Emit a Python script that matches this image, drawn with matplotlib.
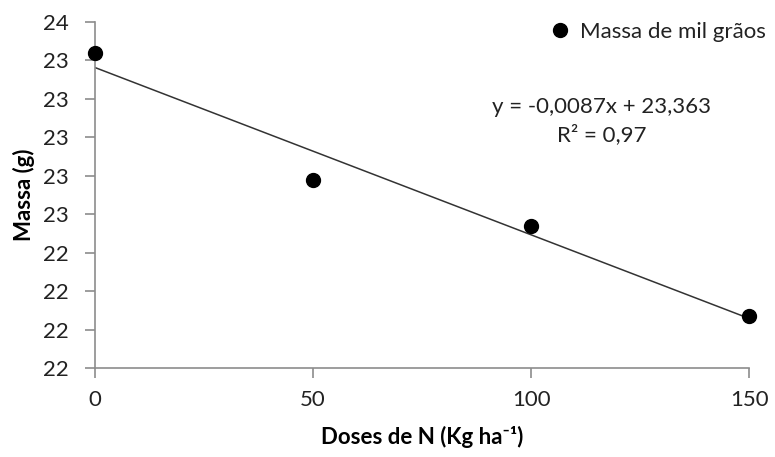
import numpy as np
import matplotlib.pyplot as plt
from matplotlib.ticker import FuncFormatter

# dados
doses = [0, 50, 100, 150]
massa = [23.44, 22.78, 22.54, 22.07]
slope = -0.0087
intercept = 23.363
r2 = 0.97
yticks = [21.8, 22.0, 22.2, 22.4, 22.6, 22.8, 23.0, 23.2, 23.4, 23.6]
xticks = [0, 50, 100, 150]

plt.rcParams['font.family'] = ['Lato', 'DejaVu Sans']
axis_gray = '#8c8c8c'
txt = '#222222'

fig = plt.figure(figsize=(7.75, 4.57), dpi=100)
ax = fig.add_axes([0.1226, 0.1947, 0.8439, 0.7572])

ax.plot(doses, massa, 'o', color='black', markersize=10, label='Massa de mil grãos',
        clip_on=False, zorder=3)
x_fit = np.array([doses[0], doses[-1]])
ax.plot(x_fit, slope * x_fit + intercept, color='#333333', linewidth=1.1, zorder=2)

ax.set_xlim(0, 150)
ax.set_ylim(yticks[0], yticks[-1])
ax.set_xticks(xticks)
ax.set_yticks(yticks)
ax.yaxis.set_major_formatter(FuncFormatter(lambda v, p: f'{v:.0f}'))

for side in ['top', 'right']:
    ax.spines[side].set_visible(False)
for side in ['left', 'bottom']:
    ax.spines[side].set_color(axis_gray)
    ax.spines[side].set_linewidth(1.2)
ax.tick_params(axis='both', direction='out', length=7, width=1.2, color=axis_gray,
               labelsize=16, labelcolor=txt)
ax.tick_params(axis='y', pad=12)
ax.tick_params(axis='x', pad=9)

ax.set_xlabel('Doses de N (Kg ha⁻¹)', fontsize=16, fontweight='bold', labelpad=11)
ax.set_ylabel('Massa (g)', fontsize=16, fontweight='bold', labelpad=6)

eq = f'y = {slope:.4f}x + {intercept:.3f}'.replace('.', ',')
ax.text(0.775, 0.714, eq + '\n' + f'R² = {r2:.2f}'.replace('.', ','),
        transform=ax.transAxes, ha='center', va='center', fontsize=16,
        color=txt, linespacing=1.45)

ax.legend(loc='upper right', bbox_to_anchor=(1.04, 1.025), frameon=False, fontsize=16,
          handletextpad=0.4, borderaxespad=0, handlelength=1.0, labelcolor=txt)

fig.savefig('out.png', dpi=100)
